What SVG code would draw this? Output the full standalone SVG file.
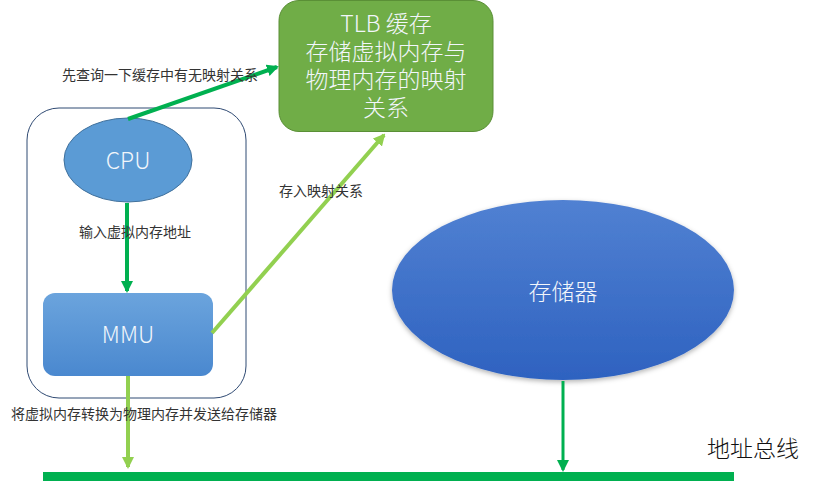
<svg xmlns="http://www.w3.org/2000/svg" width="818" height="485" viewBox="0 0 818 485">
<style>
.lbl{font-family:"Noto Sans CJK SC","Noto Sans",sans-serif;font-size:14px;fill:#333;font-weight:400}
.node{font-family:"Noto Sans CJK SC","Noto Sans",sans-serif;font-size:23px;fill:#F2F6FB;font-weight:300;text-anchor:middle}
.dk{stroke:#00B050;fill:none}
.lt{stroke:#92D050;fill:none}
</style>
<defs>
<marker id="aDk" markerWidth="12" markerHeight="12" viewBox="0 0 12 12" refX="10" refY="6" orient="auto" markerUnits="userSpaceOnUse"><path d="M0,0 L12,6 L0,12 Z" fill="#00B050"/></marker>
<marker id="aLt" markerWidth="12" markerHeight="12" viewBox="0 0 12 12" refX="10" refY="6" orient="auto" markerUnits="userSpaceOnUse"><path d="M0,0 L12,6 L0,12 Z" fill="#92D050"/></marker>
<linearGradient id="gMMU" x1="0" y1="0" x2="0" y2="1"><stop offset="0" stop-color="#6BA4DD"/><stop offset="1" stop-color="#4A88CF"/></linearGradient>
<linearGradient id="gMem" x1="0" y1="0" x2="0" y2="1"><stop offset="0" stop-color="#5181D2"/><stop offset="1" stop-color="#2E62C0"/></linearGradient>
<filter id="sh" x="-10%" y="-10%" width="120%" height="125%"><feDropShadow dx="0" dy="2" stdDeviation="2.5" flood-color="#000" flood-opacity="0.3"/></filter>
</defs>
<g id="container"><rect x="27" y="108" width="219" height="290" rx="32" fill="none" stroke="#2F4A73" stroke-width="1"/></g>
<g id="tlb"><rect x="279" y="0.5" width="214" height="131" rx="20" fill="#70AD47" stroke="#5A8F36" stroke-width="1"/>
<text class="node" x="386" y="32">TLB 缓存</text>
<text class="node" x="386" y="60">存储虚拟内存与</text>
<text class="node" x="386" y="88">物理内存的映射</text>
<text class="node" x="386" y="116">关系</text></g>
<g id="cpu"><ellipse cx="128" cy="160" rx="64" ry="42" fill="#5B9BD5" stroke="#41719C" stroke-width="1"/><text class="node" x="128" y="169">CPU</text></g>
<g id="mmu"><rect x="43" y="293" width="170" height="83" rx="12" fill="url(#gMMU)"/><text class="node" x="128" y="343">MMU</text></g>
<g id="memory"><ellipse cx="563" cy="290" rx="171" ry="90" fill="url(#gMem)" filter="url(#sh)"/><text class="node" x="563" y="300">存储器</text></g>
<g id="bus"><rect x="43" y="472" width="691" height="9" fill="#00B050"/><text x="707" y="457" style="font-family:'Noto Sans CJK SC',sans-serif;font-size:23px;fill:#111;font-weight:300">地址总线</text></g>
<g id="connectors">
<line class="dk" x1="128" y1="119" x2="277" y2="67" stroke-width="4" marker-end="url(#aDk)"/>
<line class="dk" x1="127" y1="203" x2="127" y2="291" stroke-width="4" marker-end="url(#aDk)"/>
<line class="lt" x1="212" y1="333" x2="384" y2="135" stroke-width="4" marker-end="url(#aLt)"/>
<line class="lt" x1="128" y1="376" x2="128" y2="467" stroke-width="4" marker-end="url(#aLt)"/>
<line class="dk" x1="563" y1="381" x2="563" y2="470" stroke-width="3" marker-end="url(#aDk)"/>
</g>
<g id="labels">
<text class="lbl" x="62" y="80">先查询一下缓存中有无映射关系</text>
<text class="lbl" x="79" y="237">输入虚拟内存地址</text>
<text class="lbl" x="279" y="196">存入映射关系</text>
<text class="lbl" x="11" y="419">将虚拟内存转换为物理内存并发送给存储器</text>
</g>
</svg>
